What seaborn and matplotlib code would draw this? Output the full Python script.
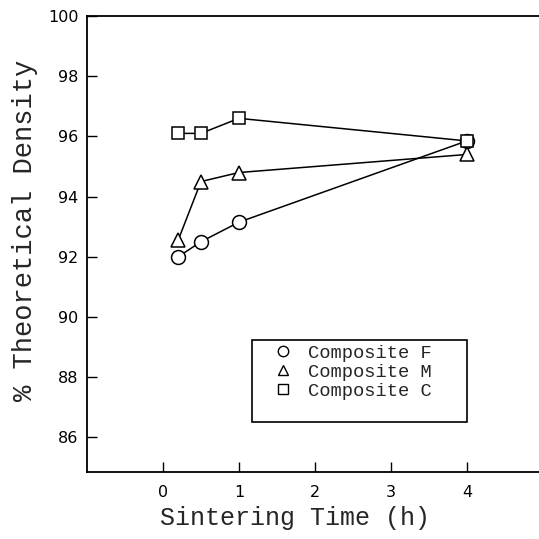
import matplotlib
matplotlib.use("Agg")
import matplotlib.pyplot as plt
from matplotlib.lines import Line2D
from matplotlib.patches import Rectangle
import seaborn as sns
import pandas as pd

# Data
times = [0.2, 0.5, 1.0, 4.0]
composite_f = [92.0, 92.5, 93.15, 95.85]
composite_m = [92.55, 94.5, 94.8, 95.4]
composite_c = [96.1, 96.1, 96.6, 95.85]
series_names = ["Composite F", "Composite M", "Composite C"]
x_ticks = [0, 1, 2, 3, 4]
y_ticks = [86, 88, 90, 92, 94, 96, 98, 100]

df = pd.DataFrame({
    "time": times * 3,
    "density": composite_f + composite_m + composite_c,
    "series": [series_names[0]] * 4 + [series_names[1]] * 4 + [series_names[2]] * 4,
})

sns.set_style("ticks")
plt.rcParams["font.family"] = ["DejaVu Sans"]

fig = plt.figure(figsize=(5.39, 5.39), dpi=100)
ax = fig.add_axes([0.1614, 0.1243, 0.8386, 0.846])

markers = {"Composite F": "o", "Composite M": "^", "Composite C": "s"}
sizes = {"Composite F": 10, "Composite M": 9.5, "Composite C": 8.5}
for name in series_names:
    sub = df[df["series"] == name]
    sns.lineplot(data=sub, x="time", y="density", ax=ax, color="black",
                 marker=markers[name], markersize=sizes[name],
                 mfc="white", mec="black", mew=1.1, lw=1.1, legend=False)

ax.set_xlim(-1, 4.95)
ax.set_ylim(84.85, 100)
ax.set_xticks(x_ticks)
ax.set_yticks(y_ticks)
ax.tick_params(direction="in", length=7, width=1.0, labelsize=11.5, colors="black")
ax.tick_params(axis="x", pad=9)
ax.tick_params(axis="y", pad=6)
for s in ["left", "bottom", "top"]:
    ax.spines[s].set_linewidth(1.3)
    ax.spines[s].set_color("black")
ax.spines["right"].set_visible(False)

mono = ["Liberation Mono", "DejaVu Sans Mono"]
ax.set_xlabel("Sintering Time (h)", fontsize=18, family=mono)
ax.set_ylabel("% Theoretical Density", fontsize=19.5, family=mono)
ax.xaxis.set_label_coords(0.46, -0.10)
ax.yaxis.set_label_coords(-0.137, 0.53)
ax.xaxis.label.set_va("center")
ax.yaxis.label.set_va("center")

# legend box
ax.add_patch(Rectangle((0.365, 0.1096), 0.476, 0.18, transform=ax.transAxes,
                       fill=True, facecolor="white", edgecolor="black",
                       lw=1.2, zorder=4))
handles = [Line2D([], [], ls="none", marker=markers[n], markersize=7.5,
                  mfc="white", mec="black", mew=1.0) for n in series_names]
leg = ax.legend(handles, series_names, loc="center left",
                bbox_to_anchor=(0.413, 0.219), frameon=False,
                prop={"family": mono, "size": 13.5}, handlelength=1.0,
                handletextpad=0.83, borderpad=0, labelspacing=0.1,
                borderaxespad=0)
leg.set_zorder(5)

fig.savefig("out.png", dpi=100)
